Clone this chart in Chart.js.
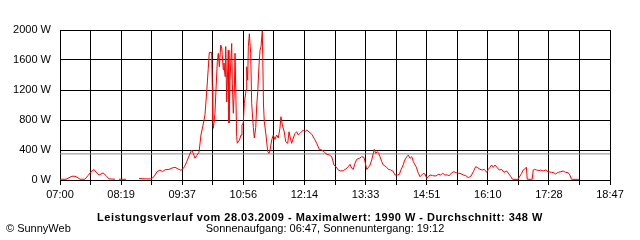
<!DOCTYPE html>
<html>
<head>
<meta charset="utf-8">
<script src="https://cdn.jsdelivr.net/npm/chart.js@4/dist/chart.umd.min.js"></script>
<style>
  body { margin: 0; background: #fff; }
  #wrap { width: 640px; height: 240px; }
</style>
</head>
<body>
<div id="wrap"><canvas id="powerChart" width="640" height="240"></canvas></div>
<script>
// Minuten nach 07:00
var minutes = [
  0, 7.7, 11.6, 15.4, 19.3, 23.1, 25.7, 32.1, 36.0, 39.8, 43.7, 47.6, 50.1, 52.7, 55.3, 59.1, 63.0, 70.7, 73.3, 75.8,
  84.8, 90.0, 101.6, 109.3, 117.0, 120.8, 124.7, 128.5, 132.0, 135.0, 140.1, 144.0, 147.8, 150.4, 153.0, 155.5, 158.1, 160.0, 162.9, 165.8,
  169.3, 171.3, 173.5, 176.1, 178.7, 181.2, 183.8, 186.4, 189.0, 190.6, 191.9, 195.0, 195.8, 196.3, 197.1, 199.2, 200.5, 202.2, 203.5, 204.8,
  206.6, 207.9, 209.9, 210.8, 212.1, 213.0, 214.3, 216.3, 217.2, 218.5, 220.7, 221.5, 222.8, 224.1, 225.0, 227.1, 227.9, 230.5, 232.7, 233.9,
  235.6, 236.9, 239.2, 240.0, 241.3, 242.1, 243.4, 245.1, 246.4, 248.5, 249.8, 251.6, 252.9, 254.2, 255.8, 257.1, 258.4, 260.1, 261.6, 262.6,
  264.8, 267.0, 268.7, 270.0, 272.1, 274.2, 276.3, 278.5, 280.6, 282.7, 284.0, 285.8, 288.3, 290.1, 292.7, 294.4, 296.0, 297.8, 299.9, 302.2,
  304.3, 306.3, 308.5, 312.8, 315.0, 317.1, 321.4, 323.6, 326.6, 330.0, 333.3, 336.4, 339.4, 342.8, 346.2, 349.3, 352.2, 354.8, 357.7, 360.8,
  364.2, 366.4, 368.6, 370.6, 372.8, 375.0, 377.0, 379.2, 381.4, 384.7, 387.8, 390.7, 392.4, 394.2, 396.4, 398.5, 400.7, 402.7, 404.0, 405.8,
  407.9, 409.6, 411.4, 413.6, 415.6, 419.1, 422.1, 425.2, 427.8, 430.7, 433.7, 436.3, 438.1, 440.6, 443.2, 445.8, 447.8, 450.0, 452.2, 454.2,
  457.7, 460.7, 462.8, 465.0, 467.0, 469.2, 471.4, 473.4, 475.6, 479.0, 483.3, 486.2, 489.3, 491.9, 494.8, 497.8, 500.4, 503.5, 506.4, 509.0,
  512.0, 514.2, 518.5, 521.5, 524.9, 528.4, 531.3, 534.4, 537.0, 539.9, 542.9, 545.5, 548.5, 550.6, 552.8, 554.9, 557.0, 559.2, 562.1, 564.7,
  567.8, 570.7, 574.2, 577.1, 579.6, 581.8, 588.6, 593.4, 595.4, 598.5, 599.5, 600.6, 607.0, 608.3, 609.6, 612.7, 615.6, 618.2, 621.1, 624.2,
  627.5, 631.9, 634.8, 637.0, 640.4, 643.8, 646.8, 649.9, 653.2, 655.4, 657.6, 667.0
];
// Leistung in W
var watts = [
  10, 10, 30, 50, 50, 30, 10, 10, 60, 110, 140, 90, 65, 80, 95, 60, 15, 10, null, 10,
  10, null, 20, 15, 15, 44, 111, 133, 111, 137, 142, 160, 169, 155, 140, 130, 150, 177, 244, 320,
  400, 356, 290, 330, 370, 600, 730, 870, 1240, 1490, 1700, 1700, 1240, 800, 690, 890, 1200, 1580, 1690, 1510,
  1800, 1760, 1470, 1560, 1380, 1780, 1040, 1730, 760, 1330, 1820, 1290, 890, 1200, 1690, 580, 490, 530, 600, 730,
  760, 1020, 1200, 1510, 1330, 1780, 1950, 1690, 1020, 700, 560, 700, 1000, 1180, 1530, 1730, 1780, 1990, 1000, 780,
  600, 380, 356, 400, 533, 600, 540, 600, 560, 690, 844, 733, 640, 511, 489, 644, 560, 489, 560, 622,
  644, 600, 622, 667, 644, 667, 631, 610, 556, 489, 409, 400, 378, 342, 333, 311, 200, 178, 133, 120,
  124, 142, 156, 178, 209, 156, 142, 222, 276, 289, 311, 302, 231, 142, 164, 200, 267, 356, 409, 356,
  378, 356, 311, 244, 200, 178, 142, 133, 120, 67, 67, 76, 133, 187, 267, 311, 333, 289, 311, 244,
  178, 89, 44, 67, 89, 80, 22, 44, 67, 58, 53, 76, 67, 89, 67, 67, 58, 97, 111, 97,
  89, 89, 67, 58, 31, 53, 111, 178, 164, 142, 133, 142, 102, 142, 169, 200, 169, 200, 164, 133,
  142, 102, 120, 80, 44, 9, 9, 89, 133, 156, 170, 10, 10, 133, 142, 133, 124, 133, 120, 133,
  111, 102, 97, 80, 102, 111, 120, 102, 97, 67, 9, 9
];
var xTickLabels = ['07:00', '08:19', '09:37', '10:56', '12:14', '13:33', '14:51', '16:10', '17:28', '18:47'];
var yTicks = [0, 400, 800, 1200, 1600, 2000];
var average = 348;
var maxValue = 1990;
var dayLength = 707; // 07:00 - 18:47

var font = 'Liberation Sans, Arial, sans-serif';

// Texte unter dem Diagramm
var textPlugin = {
  id: 'bottomTexts',
  afterDraw: function(chart) {
    var c = chart.ctx;
    c.save();
    c.fillStyle = '#000';
    c.textBaseline = 'alphabetic';
    c.font = 'bold 11px ' + font;
    c.letterSpacing = '0.5px';
    c.textAlign = 'center';
    c.fillText('Leistungsverlauf vom 28.03.2009 - Maximalwert: ' + maxValue + ' W - Durchschnitt: ' + average + ' W', 320, 221);
    c.letterSpacing = '0px';
    c.font = '11px ' + font;
    c.fillText('Sonnenaufgang: 06:47, Sonnenuntergang: 19:12', 325, 232);
    c.textAlign = 'left';
    c.fillText('\u00A9 SunnyWeb', 6, 232);
    c.restore();
  }
};

var ctx = document.getElementById('powerChart').getContext('2d');
var powerChart = new Chart(ctx, {
  type: 'line',
  data: {
    datasets: [{
      data: minutes.map(function(m, i) { return { x: m, y: watts[i] }; }),
      borderColor: '#ff0000',
      borderWidth: 1,
      pointRadius: 0,
      tension: 0,
      spanGaps: false
    }, {
      data: [{ x: 0, y: average }, { x: dayLength, y: average }],
      borderColor: '#8c8c8c',
      borderWidth: 1,
      pointRadius: 0
    }]
  },
  options: {
    responsive: false,
    animation: false,
    events: [],
    layout: {
      padding: { left: 0, right: 30, top: 30, bottom: 0 }
    },
    plugins: {
      legend: { display: false },
      tooltip: { enabled: false }
    },
    scales: {
      x: {
        type: 'linear',
        min: 0,
        max: dayLength,
        afterBuildTicks: function(axis) {
          var t = [];
          for (var i = 0; i <= 18; i++) t.push({ value: i * dayLength / 18 });
          axis.ticks = t;
        },
        afterFit: function(axis) { axis.height = 60; },
        grid: { color: '#000', lineWidth: 1, tickLength: 5, tickColor: '#000' },
        border: { color: '#000' },
        ticks: {
          autoSkip: false,
          maxRotation: 0,
          padding: 3,
          color: '#000',
          font: { family: font, size: 11 },
          callback: function(v, i) { return i % 2 === 0 ? xTickLabels[i / 2] : ''; }
        }
      },
      y: {
        min: 0,
        max: 2000,
        afterBuildTicks: function(axis) {
          axis.ticks = yTicks.map(function(v) { return { value: v }; });
        },
        afterFit: function(axis) { axis.width = 60; },
        grid: { color: '#000', lineWidth: 1, drawTicks: false },
        border: { color: '#000' },
        ticks: {
          padding: 9,
          color: '#000',
          font: { family: font, size: 11 },
          callback: function(v) { return v + ' W'; }
        }
      }
    }
  },
  plugins: [textPlugin]
});
</script>
</body>
</html>
